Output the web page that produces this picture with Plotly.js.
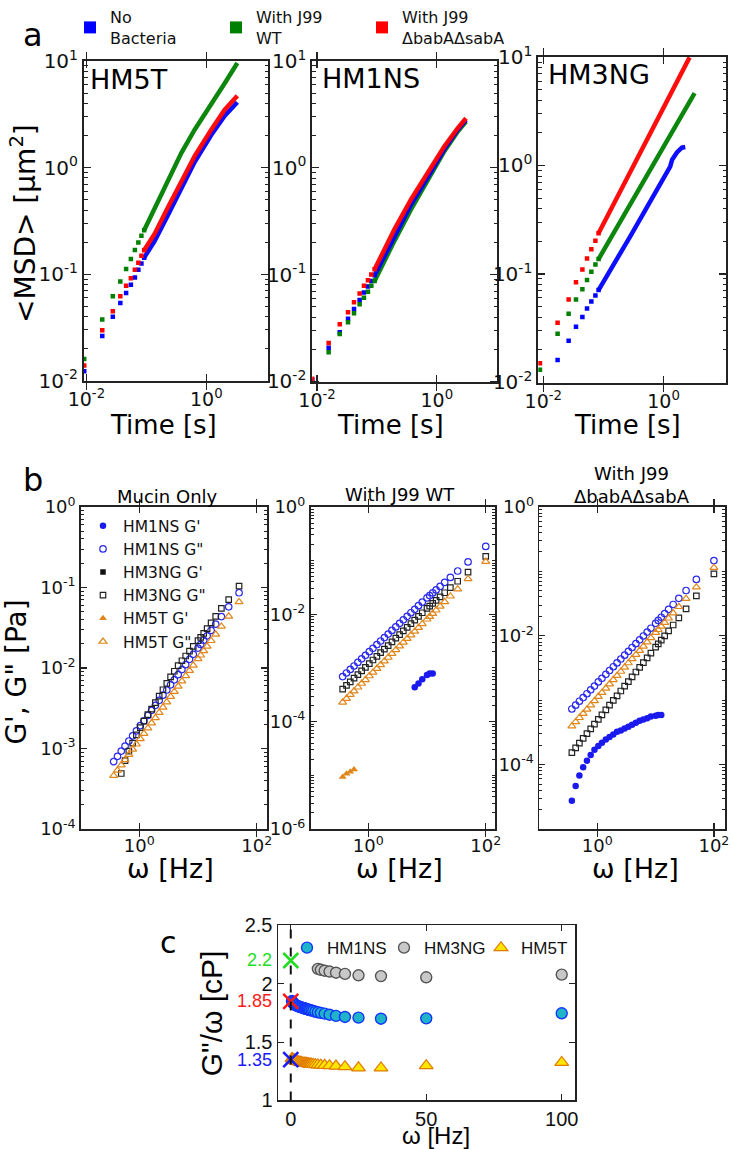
<!DOCTYPE html>
<html><head><meta charset="utf-8">
<script src="https://cdn.plot.ly/plotly-3.0.1.min.js"></script>
<style>html,body{margin:0;padding:0;background:#fff}#chart{width:734px;height:1149px}</style>
</head><body><div id="chart"></div>
<script>
// ================= DATA =================
// ---- Panel a : <MSD> vs lag time ----
const aLegendNames = ['No<br>Bacteria', 'With J99<br>WT', 'With J99<br>ΔbabAΔsabA'];
const aColors = ['#0000ff', '#008000', '#ff0000'];
const aPanelNames = ['HM5T', 'HM1NS', 'HM3NG'];

// HM5T
const a_HM5T_tEarly = [0.0092, 0.0184, 0.0276, 0.0368, 0.046, 0.0552, 0.0644, 0.0736, 0.0828, 0.092];
const a_HM5T_noBact = [0.0123, 0.0264, 0.0399, 0.0538, 0.0667, 0.0796, 0.0931, 0.110, 0.126, 0.143];
const a_HM5T_wt     = [0.016, 0.0377, 0.0621, 0.0855, 0.112, 0.139, 0.169, 0.198, 0.229, 0.258];
const a_HM5T_mut    = [0.0139, 0.0298, 0.045, 0.0621, 0.078, 0.0918, 0.110, 0.128, 0.149, 0.168];
const a_HM5T_tBand  = [0.092, 0.138, 0.23, 0.383, 0.64, 1.21, 2.02, 3.3];
const a_HM5T_noBactBand = [0.143, 0.205, 0.36, 0.64, 1.13, 2.02, 3.05, 4.1];
const a_HM5T_wtBand     = [0.258, 0.416, 0.726, 1.37, 2.27, 3.87, 6.16, 9.58];
const a_HM5T_mutBand    = [0.168, 0.240, 0.425, 0.726, 1.28, 2.27, 3.48, 4.73];

// HM1NS
const a_HM1NS_tEarly = [0.0083, 0.0156, 0.0239, 0.0329, 0.0414, 0.0514, 0.0607, 0.0708, 0.0805, 0.0914];
const a_HM1NS_noBact = [0.0103, 0.0206, 0.0289, 0.0385, 0.0476, 0.0578, 0.068, 0.0774, 0.0873, 0.0986];
const a_HM1NS_wt     = [null, 0.0187, 0.0277, 0.0358, 0.0434, 0.0526, 0.0607, 0.069, 0.0785, 0.0873];
const a_HM1NS_mut    = [0.0106, 0.0229, 0.0343, 0.0444, 0.055, 0.0666, 0.0785, 0.0886, 0.1, 0.112];
const a_HM1NS_tBand  = [0.0914, 0.118, 0.197, 0.373, 0.708, 1.34, 2.24, 3.08];
const a_HM1NS_noBactBand = [0.0986, 0.131, 0.232, 0.456, 0.819, 1.5, 2.27, 2.81];
const a_HM1NS_wtBand     = [0.0873, 0.118, 0.208, 0.41, 0.752, 1.43, 2.19, 2.71];
const a_HM1NS_mutBand    = [0.112, 0.151, 0.267, 0.508, 0.899, 1.59, 2.35, 2.91];

// HM3NG
const a_HM3NG_tEarly = [0.0088, 0.0173, 0.0264, 0.035, 0.0447, 0.0534, 0.063, 0.0736, 0.083];
const a_HM3NG_noBact = [null, 0.0161, 0.0242, 0.0325, 0.0401, 0.0479, 0.0558, 0.0634, 0.071];
const a_HM3NG_wt     = [0.0131, 0.0281, 0.043, 0.0582, 0.0724, 0.0881, 0.105, 0.122, 0.137];
const a_HM3NG_mut    = [0.015, 0.0354, 0.0582, 0.0839, 0.110, 0.139, 0.169, 0.202, 0.237];
const a_HM3NG_tBandNoBact = [0.083, 0.167, 0.278, 0.528, 1.0, 1.29, 1.39, 1.67, 2.02, 2.3];
const a_HM3NG_noBactBand  = [0.071, 0.135, 0.221, 0.410, 0.766, 0.979, 1.13, 1.32, 1.46, 1.48];
const a_HM3NG_tBandWt     = [0.083, 0.147, 0.278, 0.528, 1.0, 1.9, 3.29];
const a_HM3NG_wtBand      = [0.137, 0.235, 0.434, 0.804, 1.48, 2.75, 4.65];
const a_HM3NG_tBandMut    = [0.083, 0.167, 0.278, 0.528, 1.0, 1.67, 2.71];
const a_HM3NG_mutBand     = [0.237, 0.499, 0.863, 1.72, 3.39, 5.91, 9.93];

const aTickValsY = [0.01, 0.1, 1, 10];
const aTickTextY = ['10<sup>-2</sup>', '10<sup>-1</sup>', '10<sup>0</sup>', '10<sup>1</sup>'];
const aTickValsX = [0.01, 1];
const aTickTextX = ['10<sup>-2</sup>', '10<sup>0</sup>'];

// ---- Panel b : G', G'' vs frequency ----
const bTitles = ['Mucin Only', 'With J99 WT', 'With J99<br>ΔbabAΔsabA'];
const bOmega = [0.366, 0.425, 0.493, 0.572, 0.664, 0.770, 0.893, 1.04, 1.20, 1.40, 1.62, 1.88, 2.18, 2.53, 2.94, 3.41,
                3.95, 4.59, 5.32, 6.17, 7.16, 8.30, 10.0, 11.1, 12.5, 14.3, 16.7, 20.0, 25.0, 33.3, 50.0, 100];
// Mucin only
const b1_HM1NS_G2 = [6.9e-4, 8.0e-4, 9.3e-4, 1.07e-3, 1.24e-3, 1.44e-3, 1.66e-3, 1.93e-3, 2.21e-3, 2.58e-3, 2.98e-3, 3.44e-3, 3.97e-3, 4.60e-3, 5.33e-3, 6.18e-3,
                     7.13e-3, 8.26e-3, 9.55e-3, 1.10e-2, 1.28e-2, 1.48e-2, 1.77e-2, 1.96e-2, 2.21e-2, 2.51e-2, 2.93e-2, 3.50e-2, 4.35e-2, 5.75e-2, 8.59e-2, null];
const b1_HM3NG_G2 = [null, null, 4.9e-4, 7.1e-4, 9.3e-4, 1.17e-3, 1.48e-3, 1.82e-3, 2.19e-3, 2.63e-3, 3.09e-3, 3.72e-3, 4.47e-3, 5.37e-3, 6.46e-3, 7.76e-3,
                     9.12e-3, 1.07e-2, 1.23e-2, 1.41e-2, 1.62e-2, 1.86e-2, 2.19e-2, 2.40e-2, 2.69e-2, 3.09e-2, 3.63e-2, 4.37e-2, 5.50e-2, 7.08e-2, 0.104, null];
const b1_HM5T_G2  = [4.6e-4, 5.36e-4, 6.22e-4, 7.22e-4, 8.4e-4, 9.77e-4, 1.13e-3, 1.32e-3, 1.53e-3, 1.79e-3, 2.07e-3, 2.40e-3, 2.79e-3, 3.25e-3, 3.78e-3, 4.40e-3,
                     5.09e-3, 5.93e-3, 6.87e-3, 7.98e-3, 9.29e-3, 1.08e-2, 1.30e-2, 1.44e-2, 1.63e-2, 1.86e-2, 2.18e-2, 2.62e-2, 3.28e-2, 4.38e-2, 6.61e-2, null];
// With J99 WT
const b2_HM1NS_G2 = [6.92e-4, 8.07e-4, 9.4e-4, 1.09e-3, 1.27e-3, 1.48e-3, 1.72e-3, 2.01e-3, 2.33e-3, 2.73e-3, 3.18e-3, 3.69e-3, 4.29e-3, 5.0e-3, 5.82e-3, 6.79e-3,
                     7.89e-3, 9.19e-3, 1.07e-2, 1.24e-2, 1.45e-2, 1.68e-2, 2.02e-2, 2.23e-2, 2.50e-2, 2.84e-2, 3.30e-2, 3.93e-2, 4.86e-2, 6.40e-2, 9.44e-2, 0.184];
const b2_HM3NG_G2 = [4.05e-4, 4.73e-4, 5.53e-4, 6.46e-4, 7.55e-4, 8.83e-4, 1.03e-3, 1.21e-3, 1.41e-3, 1.65e-3, 1.93e-3, 2.25e-3, 2.62e-3, 3.07e-3, 3.59e-3, 4.20e-3,
                     4.90e-3, 5.73e-3, 6.68e-3, 7.80e-3, 9.12e-3, 1.07e-2, 1.29e-2, 1.42e-2, 1.60e-2, 1.82e-2, 2.12e-2, 2.52e-2, 3.13e-2, 4.13e-2, 6.12e-2, 0.120];
const b2_HM5T_G2  = [2.30e-4, 2.70e-4, 3.18e-4, 3.72e-4, 4.38e-4, 5.14e-4, 6.03e-4, 7.1e-4, 8.26e-4, 9.75e-4, 1.14e-3, 1.34e-3, 1.57e-3, 1.85e-3, 2.17e-3, 2.55e-3,
                     2.99e-3, 3.51e-3, 4.10e-3, 4.81e-3, 5.65e-3, 6.62e-3, 8.09e-3, 9.06e-3, 1.03e-2, 1.19e-2, 1.41e-2, 1.71e-2, 2.17e-2, 2.94e-2, 4.57e-2, 9.6e-2];
const b2_HM1NS_G1 = [null, null, null, null, null, null, null, null, null, null, null, null, null, null, null, null,
                     null, null, null, 4.37e-4, 5.13e-4, 6.17e-4, 7.41e-4, 7.94e-4, 7.94e-4, null, null, null, null, null, null, null];
const b2_HM5T_G1  = [9.3e-6, 1.07e-5, 1.17e-5, 1.29e-5, null, null, null, null, null, null, null, null, null, null, null, null,
                     null, null, null, null, null, null, null, null, null, null, null, null, null, null, null, null];
// With J99 ΔbabAΔsabA
const b3_HM1NS_G2 = [7.31e-4, 8.39e-4, 9.64e-4, 1.10e-3, 1.26e-3, 1.45e-3, 1.66e-3, 1.92e-3, 2.19e-3, 2.52e-3, 2.89e-3, 3.31e-3, 3.79e-3, 4.36e-3, 5.0e-3, 5.74e-3,
                     6.58e-3, 7.55e-3, 8.67e-3, 9.93e-3, 1.14e-2, 1.31e-2, 1.56e-2, 1.73e-2, 1.94e-2, 2.21e-2, 2.57e-2, 3.06e-2, 3.81e-2, 5.04e-2, 7.5e-2, 0.147];
const b3_HM3NG_G2 = [1.54e-4, 1.82e-4, 2.16e-4, 2.56e-4, 3.03e-4, 3.6e-4, 4.26e-4, 5.06e-4, 5.94e-4, 7.1e-4, 8.38e-4, 9.91e-4, 1.17e-3, 1.39e-3, 1.65e-3, 1.95e-3,
                     2.31e-3, 2.74e-3, 3.24e-3, 3.84e-3, 4.55e-3, 5.38e-3, 6.65e-3, 7.48e-3, 8.59e-3, 1.0e-2, 1.19e-2, 1.47e-2, 1.89e-2, 2.61e-2, 4.16e-2, 9.16e-2];
const b3_HM5T_G2  = [3.95e-4, 4.6e-4, 5.35e-4, 6.21e-4, 7.21e-4, 8.39e-4, 9.75e-4, 1.14e-3, 1.31e-3, 1.53e-3, 1.78e-3, 2.07e-3, 2.40e-3, 2.79e-3, 3.24e-3, 3.78e-3,
                     4.39e-3, 5.09e-3, 5.9e-3, 6.86e-3, 7.98e-3, 9.27e-3, 1.12e-2, 1.24e-2, 1.40e-2, 1.60e-2, 1.87e-2, 2.25e-2, 2.82e-2, 3.76e-2, 5.68e-2, 0.114];
const b3_HM1NS_G1 = [2.75e-5, 4.68e-5, 6.76e-5, 9.1e-5, 1.15e-4, 1.41e-4, 1.70e-4, 1.95e-4, 2.19e-4, 2.45e-4, 2.69e-4, 2.95e-4, 3.24e-4, 3.39e-4, 3.63e-4, 3.89e-4,
                     4.17e-4, 4.47e-4, 4.79e-4, 5.0e-4, 5.25e-4, 5.6e-4, 5.75e-4, 5.9e-4, 5.9e-4, null, null, null, null, null, null, null];
const b_HM3NG_G1 = [null];   // no measurable G' for HM3NG (legend entry only)

const bTickValsX = [1, 100];
const bTickTextX = ['10<sup>0</sup>', '10<sup>2</sup>'];
const b1TickValsY = [1e-4, 1e-3, 1e-2, 1e-1, 1];
const b1TickTextY = ['10<sup>-4</sup>', '10<sup>-3</sup>', '10<sup>-2</sup>', '10<sup>-1</sup>', '10<sup>0</sup>'];
const b2TickValsY = [1e-6, 1e-4, 1e-2, 1];
const b2TickTextY = ['10<sup>-6</sup>', '10<sup>-4</sup>', '10<sup>-2</sup>', '10<sup>0</sup>'];
const b3TickValsY = [1e-4, 1e-2, 1];
const b3TickTextY = ['10<sup>-4</sup>', '10<sup>-2</sup>', '10<sup>0</sup>'];

// ---- Panel c : G''/ω vs ω (Mucin only) ----
const cOmega = [0.45, 0.6, 0.8, 1.0, 1.3, 1.6, 2.0, 2.5, 3.0, 3.5, 4.0, 4.5, 5.0, 5.26, 5.56, 5.88,
                6.25, 6.67, 7.14, 7.69, 8.33, 9.09, 10.0, 11.1, 12.5, 14.3, 16.7, 20.0, 25.0, 33.3, 50.0, 100];
const cHM1NS = [1.852, 1.845, 1.838, 1.832, 1.826, 1.82, 1.815, 1.809, 1.805, 1.801, 1.797, 1.793, 1.79, 1.788, 1.785, 1.783,
                1.78, 1.777, 1.774, 1.771, 1.767, 1.761, 1.756, 1.751, 1.744, 1.735, 1.725, 1.716, 1.71, 1.701, 1.704, 1.747];
const cHM3NG = [null, null, null, null, null, null, null, null, null, null, null, null, null, null, null, null,
                null, null, null, null, null, null, 2.128, 2.12, 2.112, 2.105, 2.095, 2.085, 2.073, 2.066, 2.056, 2.079];
const cHM5T  = [1.36, 1.357, 1.353, 1.35, 1.346, 1.342, 1.338, 1.334, 1.331, 1.328, 1.325, 1.322, 1.32, 1.319, 1.318, 1.317,
                1.315, 1.314, 1.312, 1.311, 1.309, 1.307, 1.305, 1.303, 1.301, 1.298, 1.295, 1.29, 1.28, 1.279, 1.298, 1.326];
const cZeroOmega = [0, 0, 0];
const cZeroVisc = [2.2, 1.85, 1.35];
const cZeroLabels = ['2.2', '1.85', '1.35'];
const cZeroColors = ['#22dd22', '#ff1a1a', '#1a1aff'];
const cRefOmega = 0;
const cTickValsX = [0, 50, 100];
const cTickValsY = [1, 1.5, 2, 2.5];
const cTickTextY = ['1', '1.5', '2', '2.5'];

// ================= LAYOUT HELPERS =================
const W = 734, H = 1149;
const FONT = 'DejaVu Sans';
const CFONT = 'Liberation Sans';
const px = v => v / W;
const py = v => 1 - v / H;

// minor tick positions (2..9 within each decade, plus unlabeled decades when asked)
function minorVals(loExp, hiExp, withDecades) {
  const v = [];
  for (let e = loExp; e <= hiExp; e++) {
    if (withDecades) v.push(Math.pow(10, e));
    for (let m = 2; m <= 9; m++) v.push(m * Math.pow(10, e));
  }
  return v;
}

function logAxis(dom, range, tv, tt, anchor, o) {
  return Object.assign({
    type: 'log', domain: dom, range: range, anchor: anchor,
    tickmode: 'array', tickvals: tv, ticktext: tt,
    ticks: 'inside', ticklen: 7, tickwidth: 1.2, tickcolor: '#222',
    showline: true, linewidth: 2, linecolor: '#222', mirror: 'allticks',
    showgrid: false, zeroline: false,
    tickfont: {family: FONT, size: 20, color: '#111'}
  }, o || {});
}
// an overlaid axis that only carries the small (minor) ticks
function minorAxis(over, anchor, range, vals, len) {
  return {type: 'log', overlaying: over, anchor: anchor, side: 'left', range: range,
    tickmode: 'array', tickvals: vals, showticklabels: false,
    ticks: 'inside', ticklen: len, tickwidth: 1, tickcolor: '#222',
    showline: false, mirror: 'allticks', showgrid: false, zeroline: false};
}
const bAx = {linewidth: 1.8, ticklen: 6, tickfont: {family: FONT, size: 18, color: '#111'}};
const aXf = {tickfont: {family: FONT, size: 19, color: '#111'}};

const traces = [];

// ---- Panel a traces ----
const aSets = [
  {x: 'x', y: 'y', tE: a_HM5T_tEarly, early: [a_HM5T_noBact, a_HM5T_wt, a_HM5T_mut],
   tB: [a_HM5T_tBand, a_HM5T_tBand, a_HM5T_tBand], band: [a_HM5T_noBactBand, a_HM5T_wtBand, a_HM5T_mutBand]},
  {x: 'x2', y: 'y2', tE: a_HM1NS_tEarly, early: [a_HM1NS_noBact, a_HM1NS_wt, a_HM1NS_mut],
   tB: [a_HM1NS_tBand, a_HM1NS_tBand, a_HM1NS_tBand], band: [a_HM1NS_noBactBand, a_HM1NS_wtBand, a_HM1NS_mutBand]},
  {x: 'x3', y: 'y3', tE: a_HM3NG_tEarly, early: [a_HM3NG_noBact, a_HM3NG_wt, a_HM3NG_mut],
   tB: [a_HM3NG_tBandNoBact, a_HM3NG_tBandWt, a_HM3NG_tBandMut], band: [a_HM3NG_noBactBand, a_HM3NG_wtBand, a_HM3NG_mutBand]}
];
aSets.forEach((s, si) => {
  [1, 0, 2].forEach(k => {
    traces.push({type: 'scatter', mode: 'lines', x: s.tB[k], y: s.band[k], xaxis: s.x, yaxis: s.y,
      line: {color: aColors[k], width: 4.5}, opacity: 0.95, showlegend: false, hoverinfo: 'skip'});
  });
  [0, 1, 2].forEach(k => {
    traces.push({type: 'scatter', mode: 'markers', x: s.tE, y: s.early[k], xaxis: s.x, yaxis: s.y,
      name: aLegendNames[k], legend: 'legend2', showlegend: si === 0, legendrank: k + 1,
      marker: {symbol: 'square', size: 4.5, color: aColors[k]}});
  });
});

// ---- Panel b traces ----
const bStyle = {
  HM1NS_G1: {name: "HM1NS G'", marker: {symbol: 'circle', size: 6.5, color: '#1a1aee'}},
  HM1NS_G2: {name: 'HM1NS G"', marker: {symbol: 'circle-open', size: 6.5, color: '#2a2aee', line: {width: 1.2}}},
  HM3NG_G1: {name: "HM3NG G'", marker: {symbol: 'square', size: 5.5, color: '#111'}},
  HM3NG_G2: {name: 'HM3NG G"', marker: {symbol: 'square-open', size: 5.5, color: '#222', line: {width: 1.2}}},
  HM5T_G1:  {name: "HM5T G'",  marker: {symbol: 'triangle-up', size: 7, color: '#e0861a'}},
  HM5T_G2:  {name: 'HM5T G"',  marker: {symbol: 'triangle-up-open', size: 7, color: '#e0861a', line: {width: 1.2}}}
};
const rank = {HM1NS_G1: 1, HM1NS_G2: 2, HM3NG_G1: 3, HM3NG_G2: 4, HM5T_G1: 5, HM5T_G2: 6};
const legendShown = {};
function bTrace(key, y, xa, ya) {
  const st = bStyle[key];
  const show = !legendShown[key] && (key === 'HM1NS_G1' ? xa === 'x6' : true);
  if (show) legendShown[key] = true;
  traces.push({type: 'scatter', mode: 'markers', x: bOmega, y: y, xaxis: xa, yaxis: ya,
    name: st.name, legend: 'legend', showlegend: show, legendrank: rank[key], marker: st.marker});
}
bTrace('HM1NS_G2', b1_HM1NS_G2, 'x4', 'y4');
bTrace('HM3NG_G2', b1_HM3NG_G2, 'x4', 'y4');
bTrace('HM5T_G2',  b1_HM5T_G2,  'x4', 'y4');
bTrace('HM1NS_G2', b2_HM1NS_G2, 'x5', 'y5');
bTrace('HM3NG_G2', b2_HM3NG_G2, 'x5', 'y5');
bTrace('HM5T_G2',  b2_HM5T_G2,  'x5', 'y5');
bTrace('HM1NS_G1', b2_HM1NS_G1, 'x5', 'y5');
bTrace('HM5T_G1',  b2_HM5T_G1,  'x5', 'y5');
bTrace('HM1NS_G2', b3_HM1NS_G2, 'x6', 'y6');
bTrace('HM3NG_G2', b3_HM3NG_G2, 'x6', 'y6');
bTrace('HM5T_G2',  b3_HM5T_G2,  'x6', 'y6');
bTrace('HM1NS_G1', b3_HM1NS_G1, 'x6', 'y6');
bTrace('HM3NG_G1', b_HM3NG_G1, 'x6', 'y6');

// empty carriers so the minor-tick overlay axes get drawn (no data)
[['x', 'y8'], ['x2', 'y9'], ['x3', 'y10'], ['x4', 'y11'], ['x5', 'y12'], ['x6', 'y13']].forEach(p => {
  traces.push({type: 'scatter', mode: 'markers', x: [null], y: [null], xaxis: p[0], yaxis: p[1],
    showlegend: false, hoverinfo: 'skip'});
});

// ---- Panel c traces ----
traces.push({type: 'scatter', mode: 'markers', x: cOmega, y: cHM1NS, xaxis: 'x7', yaxis: 'y7', name: 'HM1NS',
  legend: 'legend3', legendrank: 1,
  marker: {symbol: 'circle', size: 11, color: '#20b4c8', line: {width: 1.4, color: '#1434ff'}}});
traces.push({type: 'scatter', mode: 'markers', x: cOmega, y: cHM3NG, xaxis: 'x7', yaxis: 'y7', name: 'HM3NG',
  legend: 'legend3', legendrank: 2,
  marker: {symbol: 'circle', size: 11, color: '#c8c8c8', line: {width: 1.4, color: '#555'}}});
traces.push({type: 'scatter', mode: 'markers', x: cOmega, y: cHM5T, xaxis: 'x7', yaxis: 'y7', name: 'HM5T',
  legend: 'legend3', legendrank: 3,
  marker: {symbol: 'triangle-up', size: 12, color: '#ffe600', line: {width: 1.2, color: '#e07a00'}}});
traces.push({type: 'scatter', mode: 'markers', x: cZeroOmega, y: cZeroVisc, xaxis: 'x7', yaxis: 'y7', showlegend: false,
  marker: {symbol: 'x-thin-open', size: 15, color: cZeroColors, line: {width: 2.6}}});

// ================= LAYOUT =================
const ann = [];
function A(text, x, y, size, o) {
  ann.push(Object.assign({text: text, xref: 'paper', yref: 'paper', x: px(x), y: py(y), showarrow: false,
    xanchor: 'center', yanchor: 'middle', font: {family: FONT, size: size, color: '#000'}}, o || {}));
}
A('a', 33, 24, 32);
A('b', 33, 474, 32);
A('c', 168, 940, 30);
// panel a labels
A(aPanelNames[0], 88, 69, 27, {xanchor: 'left'});
A(aPanelNames[1], 320, 68, 27, {xanchor: 'left'});
A(aPanelNames[2], 546, 64, 27, {xanchor: 'left'});
A('&lt;MSD&gt; [μm<sup>2</sup>]', 24, 215, 28, {textangle: -90});
A('Time [s]', 163, 418, 26);
A('Time [s]', 390, 418, 26);
A('Time [s]', 627, 418, 26);
// panel b labels
A(bTitles[0], 167, 490, 18);
A(bTitles[1], 400, 488, 18);
A(bTitles[2], 632, 479, 18);
A("G', G\" [Pa]", 17, 668, 28, {textangle: -90});
A('ω [Hz]', 170, 866, 27);
A('ω [Hz]', 399, 866, 27);
A('ω [Hz]', 635, 866, 27);
// panel c labels
A('G"/ω [cP]', 211, 1012, 30, {textangle: -90, font: {family: CFONT, size: 30, color: '#000'}});
A('ω [Hz]', 436, 1135, 24, {font: {family: CFONT, size: 24, color: '#000'}});
cZeroVisc.forEach((v, i) => {
  ann.push({text: cZeroLabels[i], xref: 'paper', yref: 'y7', x: px(274), y: v, xanchor: 'right', yanchor: 'middle',
    showarrow: false, font: {family: CFONT, size: 18, color: cZeroColors[i]}});
});

const aMinor = minorVals(-2, 0, false);
const layout = {
  width: W, height: H, margin: {l: 0, r: 0, t: 0, b: 0},
  paper_bgcolor: '#fff', plot_bgcolor: 'rgba(0,0,0,0)',
  font: {family: FONT, color: '#000'},
  showlegend: true,
  // panel a
  xaxis:  logAxis([px(84), px(268)], [-2.04, 1.03], aTickValsX, aTickTextX, 'y', aXf),
  yaxis:  logAxis([py(373.4), py(50.5)], [-2, 1], aTickValsY, aTickTextY, 'x'),
  xaxis2: logAxis([px(312.3), px(497)], [-2.08, 1.006], aTickValsX, aTickTextX, 'y2', aXf),
  yaxis2: logAxis([py(375), py(50)], [-2.01, 1.005], aTickValsY, aTickTextY, 'x2'),
  xaxis3: logAxis([px(538.3), px(726.3)], [-2.083, 1.044], aTickValsX, aTickTextX, 'y3', aXf),
  yaxis3: logAxis([py(375.3), py(46.5)], [-2.003, 1.0], aTickValsY, aTickTextY, 'x3'),
  // panel b
  xaxis4: logAxis([px(81), px(267)], [-0.993, 2.175], bTickValsX, bTickTextX, 'y4', bAx),
  yaxis4: logAxis([py(826), py(500.7)], [-4, 0], b1TickValsY, b1TickTextY, 'x4', bAx),
  xaxis5: logAxis([px(310.7), px(495)], [-0.981, 2.158], bTickValsX, bTickTextX, 'y5', bAx),
  yaxis5: logAxis([py(826), py(500.7)], [-6, 0], b2TickValsY, b2TickTextY, 'x5', bAx),
  xaxis6: logAxis([px(539.3), px(725)], [-0.995, 2.19], bTickValsX, bTickTextX, 'y6', bAx),
  yaxis6: logAxis([py(826), py(500.7)], [-5, 0], b3TickValsY, b3TickTextY, 'x6', bAx),
  // minor-tick overlays
  yaxis8:  minorAxis('y',  'x',  [-2, 1], aMinor, 3.5),
  yaxis9:  minorAxis('y2', 'x2', [-2.01, 1.005], aMinor, 3.5),
  yaxis10: minorAxis('y3', 'x3', [-2.003, 1.0], aMinor, 3.5),
  yaxis11: minorAxis('y4', 'x4', [-4, 0], minorVals(-4, -1, false), 3),
  yaxis12: minorAxis('y5', 'x5', [-6, 0], minorVals(-6, -1, true), 3),
  yaxis13: minorAxis('y6', 'x6', [-5, 0], minorVals(-5, -1, true), 3),
  // panel c
  xaxis7: {domain: [px(278.3), px(575)], range: [-4.6, 104.9], anchor: 'y7', tickmode: 'array', tickvals: cTickValsX,
    ticks: 'inside', ticklen: 6, tickcolor: '#222', showline: true, linewidth: 1.8, linecolor: '#222', mirror: 'allticks',
    showgrid: false, zeroline: false, tickfont: {family: CFONT, size: 20, color: '#111'}},
  yaxis7: {domain: [py(1100), py(923.3)], range: [1, 2.5], anchor: 'x7', tickmode: 'array', tickvals: cTickValsY, ticktext: cTickTextY,
    ticks: 'inside', ticklen: 6, tickcolor: '#222', showline: true, linewidth: 1.8, linecolor: '#222', mirror: 'allticks',
    showgrid: false, zeroline: false, tickfont: {family: CFONT, size: 20, color: '#111'}},
  shapes: [{type: 'line', xref: 'x7', yref: 'y7 domain', x0: cRefOmega, x1: cRefOmega, y0: 0, y1: 1,
    line: {color: '#111', width: 2, dash: 'dash'}}],
  legend: {x: px(83), y: py(503), xanchor: 'left', yanchor: 'top', bgcolor: 'rgba(0,0,0,0)',
    font: {family: FONT, size: 15.5, color: '#111'}, tracegroupgap: 0, itemsizing: 'trace'},
  legend2: {orientation: 'h', x: px(70), y: py(-11), xanchor: 'left', yanchor: 'top', bgcolor: 'rgba(0,0,0,0)',
    font: {family: FONT, size: 16, color: '#111'}, itemsizing: 'constant', entrywidth: 101, entrywidthmode: 'pixels'},
  legend3: {orientation: 'h', x: px(287), y: py(928), xanchor: 'left', yanchor: 'top', bgcolor: 'rgba(0,0,0,0)',
    font: {family: CFONT, size: 17, color: '#111'}, itemsizing: 'trace', entrywidth: 52, entrywidthmode: 'pixels'},
  annotations: ann
};

Plotly.newPlot('chart', traces, layout, {staticPlot: true, displayModeBar: false});
</script>
</body></html>
